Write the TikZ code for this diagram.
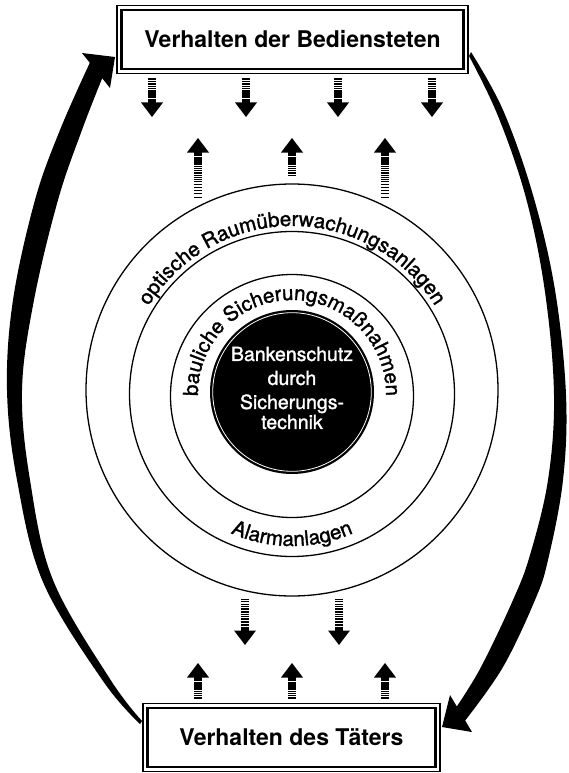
\documentclass[tikz,border=0pt]{standalone}
\usepackage{fontspec}
\setmainfont{TeX Gyre Heros}
\newfontfamily\heavyfam[FakeBold=1.5]{TeX Gyre Heros}
\usetikzlibrary{decorations.text,calc}
\newcommand{\labfont}{\heavyfam\fontsize{20.5}{24}\selectfont}
\tikzset{
  ring/.style={line width=1.3pt},
  titlebox/.style={draw, line width=2.8pt, rectangle, inner sep=0pt, outer sep=0pt,
     minimum height=59pt, font=\fontsize{23}{28}\selectfont\bfseries},
  outerframe/.style={line width=1.3pt},
  swoosh/.style={fill=black},
  lab/.style={decorate, decoration={text along path, text align=center}},
  pics/sarrow/.style={code={
     \fill (0,0) -- (11,-14.5) -- (-11,-14.5) -- cycle;
     \begin{scope}
       \clip (-5,-14) rectangle (5,-14.5-#1);
       \foreach \a/\b in {-0.5/3.5, 4.3/7, 7.8/10, 10.8/12.6, 13.4/14.8, 15.6/16.7, 17.5/18.4, 19.2/19.9, 20.7/21.4, 22.4/23, 24.3/24.8, 26.4/26.9, 28.8/29.3, 31.5/32, 34.4/34.9, 37.5/38, 40.8/41.3, 44/44.5}
         {\fill (-4.2,-14.5-\a) rectangle (4.2,-14.5-\b);}
     \end{scope}
  }},
}
\begin{document}
\begin{tikzpicture}[x=1pt,y=1pt]
\useasboundingbox (0,0) rectangle (569,-773);
\fill[white] (0,0) rectangle (569,-773);

% boxes
\node[titlebox, minimum width=342pt] (top) at (292.5,-39.5) {Verhalten der Bediensteten};
\draw[outerframe] ([shift={(-4.5,4.5)}]top.north west) rectangle ([shift={(4.5,-4.5)}]top.south east);
\node[titlebox, minimum width=288pt] (bot) at (291.5,-737.5) {Verhalten des Täters};
\draw[outerframe] ([shift={(-4.5,4.5)}]bot.north west) rectangle ([shift={(4.5,-4.5)}]bot.south east);

% rings
\coordinate (C) at (292,-394);
\draw[ring] (292,-390) circle[radius=206];
\draw[ring] (292,-394) circle[radius=162.5];
\draw[ring] (292,-396) circle[radius=121.5];
\node[circle, fill=black, minimum size=164pt, inner sep=0pt] (core) at (292,-392) {};
\draw[white, line width=0.8pt] (core.center) circle[radius=79.3];
\node[text=white, align=center, font=\heavyfam\fontsize{19.5}{24}\selectfont] (coretext) at (292,-388)
  {Bankenschutz\\durch\\Sicherungs-\\[-4pt]technik};

% ring labels
\path[lab, decoration={text={|\labfont|optische Raumüberwachungsanlagen}}]
  ($(C)+(160:168)$) arc[start angle=160, end angle=20, radius=168];
\path[lab, decoration={text={|\labfont|bauliche Sicherungsmaßnahmen}}]
  ($(C)+(205:94)$) arc[start angle=205, end angle=-25, radius=94];
\path[lab, decoration={text={|\labfont|Alarmanlagen}}]
  ($(C)+(235:152)$) arc[start angle=235, end angle=305, radius=152];

% striped arrows
\foreach \x in {152,246,338,432} \pic[rotate=180] at (\x,-117) {sarrow=25};
\pic at (198,-138) {sarrow=45};
\pic at (292,-138) {sarrow=24};
\pic at (385,-138) {sarrow=45};
\foreach \x in {245,339} \pic[rotate=180] at (\x,-645) {sarrow=33};
\foreach \x in {198,292,385} \pic at (\x,-663) {sarrow=22};

% left swoosh (bottom box -> top box)
\fill[swoosh] plot[smooth, tension=0.6] coordinates {(140,-724) (103,-681) (43,-582) (17,-480) (7,-390) (13,-300) (35,-200) (60,-130) (89.8,-62.8)}
  -- (82,-53) -- (115,-57) -- (110,-88) -- (102.2,-78.2)
  -- plot[smooth, tension=0.6] coordinates {(102.2,-78.2) (82,-130) (58,-200) (34,-300) (22,-390) (30,-480) (53,-580) (110,-679) (142,-721)} -- cycle;

% right swoosh (top box -> bottom box)
\fill[swoosh] plot[smooth, tension=0.6] coordinates {(471,-52) (503,-110) (533,-195) (555,-290) (566,-395) (563,-480) (548,-560) (535,-600) (503,-667) (465.2,-720.5)}
  -- (472,-732) -- (442,-727) -- (450,-695) -- (456.8,-706.5)
  -- plot[smooth, tension=0.6] coordinates {(456.8,-706.5) (481,-667) (513,-600) (530,-555) (548,-480) (554,-395) (545,-292) (526,-198) (498,-116) (469,-56)} -- cycle;
\end{tikzpicture}
\end{document}
